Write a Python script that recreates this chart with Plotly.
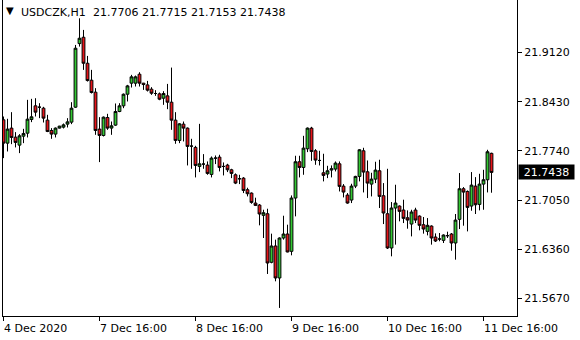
import plotly.graph_objects as go

symbol = "USDCZK,H1"

opens = [21.8177, 21.7849, 21.8060, 21.7933, 21.7821, 21.7947, 21.7989, 21.8181, 21.8373, 21.8354,
         21.8340, 21.8172, 21.8027, 21.7976, 21.8060, 21.8074, 21.8116, 21.8144, 21.8354, 21.9247,
         21.9336, 21.8971, 21.8733, 21.8565, 21.8046, 21.7957, 21.8209, 21.8060, 21.8102, 21.8293,
         21.8373, 21.8536, 21.8691, 21.8691, 21.8817, 21.8691, 21.8667, 21.8607, 21.8546, 21.8541,
         21.8480, 21.8513, 21.8424, 21.8172, 21.7887, 21.8116, 21.8060, 21.7807, 21.7789, 21.7522,
         21.7555, 21.7541, 21.7410, 21.7639, 21.7653, 21.7522, 21.7541, 21.7475, 21.7405, 21.7349,
         21.7358, 21.7195, 21.7148, 21.7008, 21.6980, 21.6835, 21.6858, 21.6176, 21.6405, 21.5956,
         21.6517, 21.6573, 21.6330, 21.7078, 21.7588, 21.7508, 21.7770, 21.8060, 21.7742, 21.7606,
         21.7433, 21.7415, 21.7471, 21.7485, 21.7559, 21.7246, 21.7120, 21.7050, 21.7246, 21.7382,
         21.7742, 21.7447, 21.7274, 21.7344, 21.7461, 21.7111, 21.6858, 21.6377, 21.6938, 21.6966,
         21.6910, 21.6802, 21.6713, 21.6910, 21.6825, 21.6704, 21.6610, 21.6685, 21.6531, 21.6503,
         21.6484, 21.6550, 21.6573, 21.6447, 21.6779, 21.7209, 21.7171, 21.6966, 21.7246, 21.6989,
         21.7274, 21.7335, 21.7706]
highs = [21.8223, 21.8191, 21.8284, 21.8004, 21.7976, 21.8050, 21.8457, 21.8471, 21.8480, 21.8410,
         21.8359, 21.8247, 21.8060, 21.8069, 21.8092, 21.8125, 21.8200, 21.8424, 21.9228, 21.9602,
         21.9439, 21.9074, 21.8878, 21.8621, 21.8214, 21.8223, 21.8261, 21.8153, 21.8406, 21.8410,
         21.8546, 21.8667, 21.8808, 21.8798, 21.8845, 21.8695, 21.8723, 21.8635, 21.8593, 21.8560,
         21.8579, 21.8681, 21.8910, 21.8284, 21.8130, 21.8153, 21.8069, 21.7910, 21.7812, 21.8120,
         21.7695, 21.7592, 21.7662, 21.7676, 21.7686, 21.7578, 21.7559, 21.7489, 21.7424, 21.7405,
         21.7372, 21.7223, 21.7157, 21.7083, 21.6994, 21.6914, 21.6928, 21.6578, 21.6494, 21.6526,
         21.6830, 21.6704, 21.7115, 21.7672, 21.7672, 21.7952, 21.8069, 21.8078, 21.7765, 21.7742,
         21.7700, 21.7531, 21.7536, 21.7592, 21.7592, 21.7274, 21.7148, 21.7279, 21.7391, 21.7765,
         21.7784, 21.7606, 21.7433, 21.7588, 21.7616, 21.7288, 21.7489, 21.7022, 21.7265, 21.6975,
         21.7055, 21.6905, 21.6914, 21.6942, 21.6835, 21.6812, 21.6797, 21.6695, 21.6582, 21.6587,
         21.6568, 21.6606, 21.6587, 21.6854, 21.7429, 21.7232, 21.7185, 21.7443, 21.7372, 21.7419,
         21.7475, 21.7756, 21.7715]
lows = [21.7639, 21.7732, 21.7835, 21.7789, 21.7709, 21.7849, 21.7929, 21.8144, 21.8223, 21.8200,
        21.8139, 21.8004, 21.7910, 21.7929, 21.8055, 21.8055, 21.8069, 21.8116, 21.8345, 21.9205,
        21.8878, 21.8714, 21.8546, 21.7966, 21.7583, 21.7943, 21.8036, 21.7966, 21.8092, 21.8284,
        21.8340, 21.8434, 21.8630, 21.8644, 21.8644, 21.8597, 21.8574, 21.8527, 21.8513, 21.8452,
        21.8387, 21.8326, 21.8036, 21.7840, 21.7849, 21.7873, 21.7536, 21.7489, 21.7368, 21.7443,
        21.7489, 21.7405, 21.7368, 21.7555, 21.7452, 21.7396, 21.7443, 21.7358, 21.7274, 21.7274,
        21.7148, 21.7101, 21.6998, 21.6966, 21.6695, 21.6517, 21.6012, 21.6162, 21.5909, 21.5535,
        21.6494, 21.6316, 21.6274, 21.6821, 21.7368, 21.7405, 21.7723, 21.7601, 21.7545, 21.7536,
        21.7312, 21.7358, 21.7368, 21.7452, 21.7171, 21.7087, 21.6998, 21.7008, 21.7218, 21.7312,
        21.7157, 21.7078, 21.7101, 21.7288, 21.6938, 21.6713, 21.6363, 21.6260, 21.6424, 21.6751,
        21.6727, 21.6648, 21.6540, 21.6727, 21.6625, 21.6578, 21.6554, 21.6424, 21.6461, 21.6471,
        21.6447, 21.6517, 21.6339, 21.6213, 21.6643, 21.6690, 21.6610, 21.6900, 21.6854, 21.6905,
        21.6914, 21.7157, 21.7153]
closes = [21.7849, 21.8046, 21.7929, 21.7859, 21.7952, 21.7985, 21.8186, 21.8219, 21.8284, 21.8354,
          21.8200, 21.8013, 21.7976, 21.8060, 21.8088, 21.8106, 21.8148, 21.8340, 21.9182, 21.9322,
          21.8971, 21.8728, 21.8560, 21.8027, 21.7957, 21.8214, 21.8060, 21.8092, 21.8293, 21.8373,
          21.8536, 21.8653, 21.8780, 21.8780, 21.8691, 21.8672, 21.8593, 21.8550, 21.8546, 21.8466,
          21.8546, 21.8424, 21.8172, 21.7887, 21.8120, 21.8060, 21.7803, 21.7807, 21.7536, 21.7559,
          21.7555, 21.7424, 21.7639, 21.7639, 21.7508, 21.7522, 21.7475, 21.7424, 21.7288, 21.7349,
          21.7185, 21.7139, 21.7017, 21.6975, 21.6854, 21.6872, 21.6166, 21.6405, 21.5956, 21.6517,
          21.6573, 21.6321, 21.7078, 21.7588, 21.7508, 21.7779, 21.8060, 21.7732, 21.7611, 21.7606,
          21.7396, 21.7461, 21.7489, 21.7569, 21.7242, 21.7162, 21.7008, 21.7246, 21.7382, 21.7756,
          21.7443, 21.7288, 21.7344, 21.7471, 21.7101, 21.6868, 21.6377, 21.6938, 21.7008, 21.6891,
          21.6793, 21.6769, 21.6882, 21.6769, 21.6695, 21.6643, 21.6695, 21.6517, 21.6475, 21.6503,
          21.6559, 21.6550, 21.6447, 21.6769, 21.7209, 21.7162, 21.6947, 21.7260, 21.6984, 21.7274,
          21.7335, 21.7728, 21.7438]

bars = list(range(len(opens)))

time_tick_bars = [0, 24, 48, 72, 96, 120]
time_tick_labels = ["4 Dec 2020", "7 Dec 16:00", "8 Dec 16:00", "9 Dec 16:00", "10 Dec 16:00", "11 Dec 16:00"]

price_ticks = [21.5670, 21.6360, 21.7050, 21.7740, 21.8430, 21.9120]

FONT = "DejaVu Sans"
GREEN = "#32c832"
RED = "#e8141a"

fig = go.Figure(go.Candlestick(
    x=bars, open=opens, high=highs, low=lows, close=closes,
    increasing=dict(line=dict(color="black", width=1), fillcolor=GREEN),
    decreasing=dict(line=dict(color="black", width=1), fillcolor=RED),
    whiskerwidth=0, hoverinfo="skip", showlegend=False,
))

annotations = []
for b, lab in zip(time_tick_bars, time_tick_labels):
    annotations.append(dict(x=b, xref="x", y=0, yref="paper", yanchor="top", xanchor="left",
                            xshift=-2, yshift=-4, text=lab, showarrow=False,
                            font=dict(family=FONT, size=11, color="black")))

annotations.append(dict(x=0, xref="paper", y=1, yref="paper", xanchor="left", yanchor="top",
                        xshift=1, yshift=-3, text="▼", showarrow=False,
                        font=dict(family=FONT, size=10, color="black")))
annotations.append(dict(x=0, xref="paper", y=1, yref="paper", xanchor="left", yanchor="top",
                        xshift=16, yshift=-4, text=symbol, showarrow=False,
                        font=dict(family=FONT, size=11, color="black")))
annotations.append(dict(x=0, xref="paper", y=1, yref="paper", xanchor="left", yanchor="top",
                        xshift=88, yshift=-4,
                        text=f"{opens[-1]:.4f} {highs[-1]:.4f} {lows[-1]:.4f} {closes[-1]:.4f}",
                        showarrow=False, font=dict(family=FONT, size=11, color="black")))
annotations.append(dict(x=1, xref="paper", y=closes[-1], yref="y", xanchor="left", yanchor="middle",
                        xshift=1, text=f"{closes[-1]:.4f}", showarrow=False, bgcolor="black",
                        width=53, height=12, borderpad=1, align="center",
                        font=dict(family=FONT, size=11, color="white")))

fig.update_layout(
    width=580, height=340,
    margin=dict(l=3, r=63, t=0, b=24),
    paper_bgcolor="white", plot_bgcolor="white",
    showlegend=False,
    boxgap=0.3, boxgroupgap=0,
    annotations=annotations,
    xaxis=dict(range=[-0.125, 128.375], rangeslider=dict(visible=False), showgrid=False, zeroline=False,
               showline=True, linecolor="black", linewidth=1, ticks="outside", ticklen=4,
               tickcolor="black", tickvals=time_tick_bars, showticklabels=False, fixedrange=True),
    yaxis=dict(side="right", range=[21.5422, 21.9859], showgrid=False, zeroline=False,
               showline=True, mirror=True, linecolor="black", linewidth=1, ticks="outside",
               ticklen=4, tickcolor="black", tickvals=price_ticks,
               ticktext=[f"{v:.4f}" for v in price_ticks],
               tickfont=dict(family=FONT, size=11, color="black"), fixedrange=True),
)

fig.write_html("out.html")
